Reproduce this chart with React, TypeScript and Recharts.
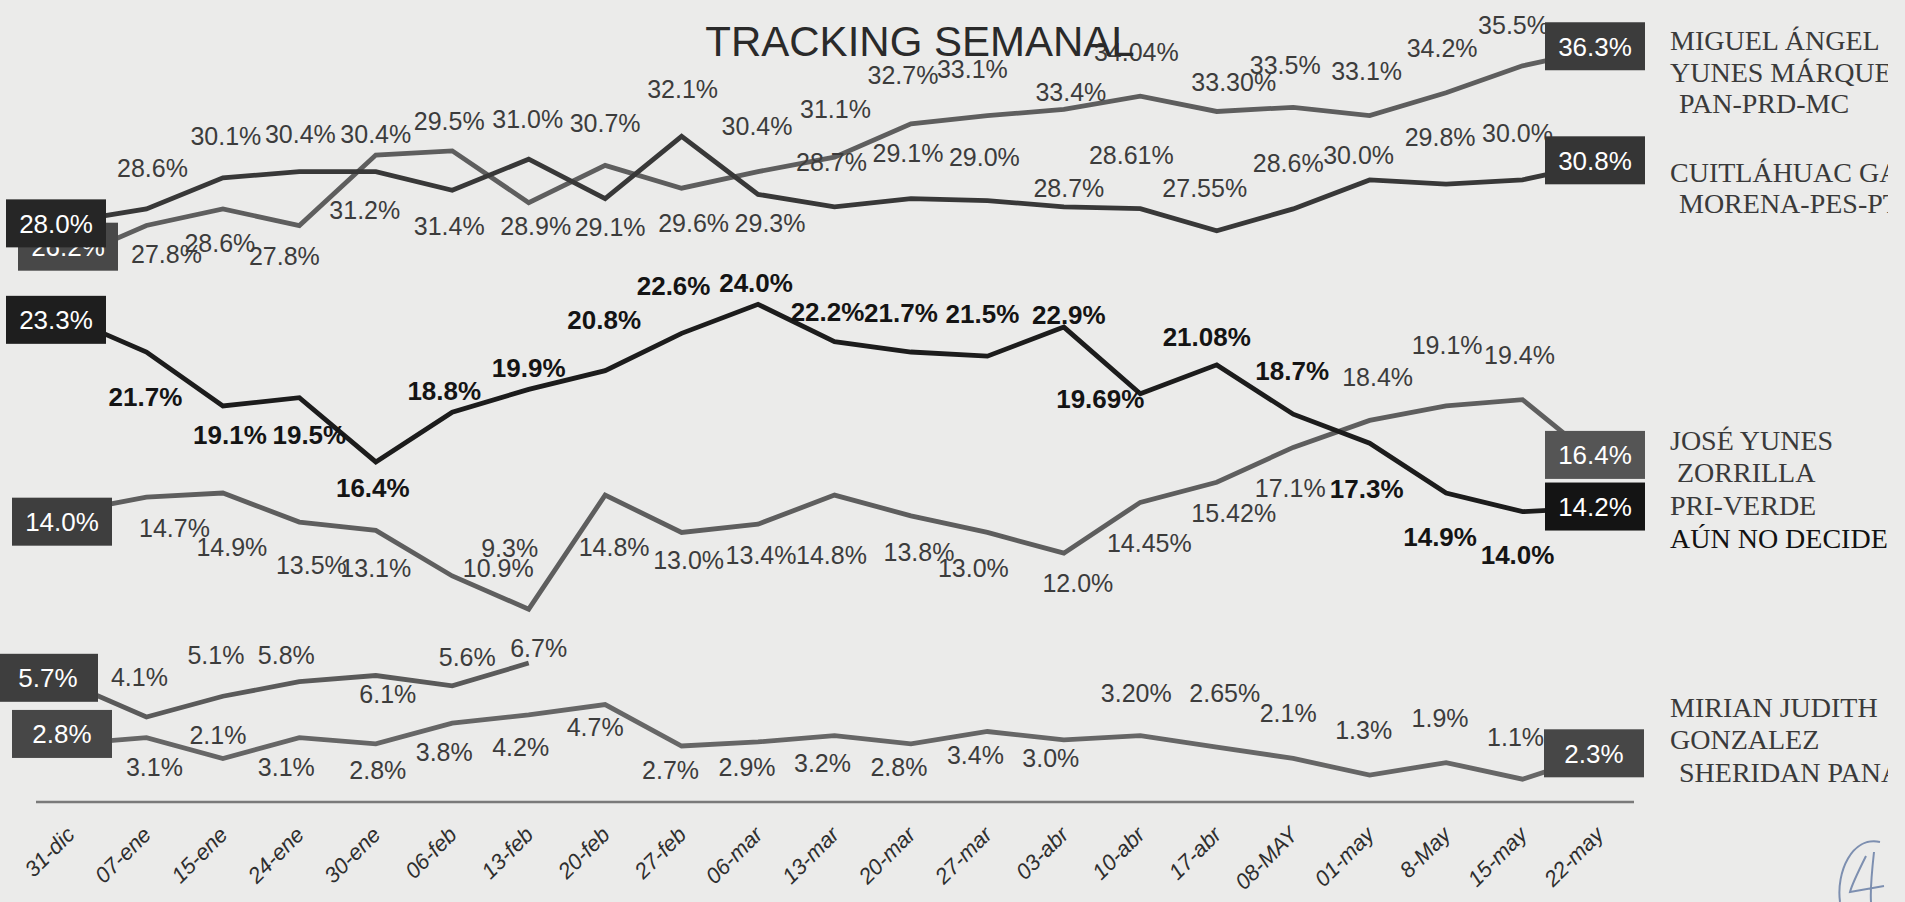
import React from "react";
import { LineChart, Line, XAxis, YAxis } from "recharts";

// semanas (eje X)
const weeks = [
  "31-dic", "07-ene", "15-ene", "24-ene", "30-ene", "06-feb", "13-feb",
  "20-feb", "27-feb", "06-mar", "13-mar", "20-mar", "27-mar", "03-abr",
  "10-abr", "17-abr", "08-MAY", "01-may", "8-May", "15-may", "22-may",
];

// porcentajes tal como aparecen impresos en la gráfica
const yunesMarquez = ["26.2", "27.8", "28.6", "27.8", "31.2", "31.4", "28.9", "30.7", "29.6", "30.4", "31.1", "32.7", "33.1", "33.4", "34.04", "33.30", "33.5", "33.1", "34.2", "35.5", "36.3"];
const cuitlahuac = ["28.0", "28.6", "30.1", "30.4", "30.4", "29.5", "31.0", "29.1", "32.1", "29.3", "28.7", "29.1", "29.0", "28.7", "28.61", "27.55", "28.6", "30.0", "29.8", "30.0", "30.8"];
const yunesZorrilla = ["14.0", "14.7", "14.9", "13.5", "13.1", "10.9", "9.3", "14.8", "13.0", "13.4", "14.8", "13.8", "13.0", "12.0", "14.45", "15.42", "17.1", "18.4", "19.1", "19.4", "16.4"];
const noDecide = ["23.3", "21.7", "19.1", "19.5", "16.4", "18.8", "19.9", "20.8", "22.6", "24.0", "22.2", "21.7", "21.5", "22.9", "19.69", "21.08", "18.7", "17.3", "14.9", "14.0", "14.2"];
const otros = ["5.7", "4.1", "5.1", "5.8", "6.1", "5.6", "6.7"];
const gonzalez = ["2.8", "3.1", "2.1", "3.1", "2.8", "3.8", "4.2", "4.7", "2.7", "2.9", "3.2", "2.8", "3.4", "3.0", "3.20", "2.65", "2.1", "1.3", "1.9", "1.1", "2.3"];

// where each data label sits relative to its point [dx, dy]
type Off = [number, number];
const yunesMarquezLabelPos: Off[] = [[0, 0], [20, 28], [-3, 34], [-15, 30], [-11, 55], [-3, 75], [7, 23], [0, -42], [12, 35], [-1, -46], [1, -48], [-8, -49], [-15, -47], [7, -17], [-4, -44], [17, -29], [-8, -42], [-3, -45], [-4, -45], [-9, -41], [0, 0]];
const cuitlahuacLabelPos: Off[] = [[0, 0], [6, -41], [3, -42], [1, -38], [0, -38], [-3, -69], [-1, -40], [5, 28], [1, -47], [12, 29], [-3, -45], [-3, -46], [-3, -44], [5, -19], [-9, -54], [-12, -43], [-5, -46], [-11, -25], [-6, -47], [-5, -47], [0, 0]];
const yunesZorrillaLabelPos: Off[] = [[0, 0], [28, 31], [9, 54], [12, 43], [0, 38], [46, -8], [-19, -61], [9, 52], [7, 28], [3, 31], [-3, 60], [8, 36], [-14, 36], [14, 30], [9, 41], [17, 31], [-3, 41], [8, -43], [1, -61], [-3, -45], [0, 0]];
const noDecideLabelPos: Off[] = [[0, 0], [-1, 45], [7, 29], [10, 37], [-3, 26], [-8, -22], [0, -22], [-1, -51], [-8, -48], [-2, -22], [-7, -30], [-10, -39], [-5, -43], [5, -12], [-40, 5], [-10, -28], [-1, -44], [-3, 45], [-6, 44], [-5, 43], [0, 0]];
const otrosLabelPos: Off[] = [[0, 0], [-7, -40], [-7, -41], [-13, -27], [12, 18], [15, -29], [10, -15]];
const gonzalezLabelPos: Off[] = [[0, 0], [8, 29], [-5, -23], [-13, 29], [2, 26], [-8, 29], [-8, 32], [-10, 22], [-11, 24], [-11, 25], [-12, 27], [-12, 23], [-12, 24], [-13, 18], [-4, -43], [8, -54], [-5, -45], [-6, -45], [-6, -45], [-7, -42], [0, 0]];

type Series = {
  key: string;
  values: string[];
  labelPos: Off[];
  line: string;
  label: string;
  bold: boolean;
  boxes: { first: [string, number, number]; last?: [string, number, number] };
};

const series: Series[] = [
  { key: "yunesMarquez", values: yunesMarquez, labelPos: yunesMarquezLabelPos, line: "#5e5e5e", label: "#3c3c3c", bold: false, boxes: { first: ["#484848", -2, -12], last: ["#3c3c3c", -4, -3] } },
  { key: "cuitlahuac", values: cuitlahuac, labelPos: cuitlahuacLabelPos, line: "#383838", label: "#3c3c3c", bold: false, boxes: { first: ["#262626", -14, 2], last: ["#353535", -4, -3] } },
  { key: "yunesZorrilla", values: yunesZorrilla, labelPos: yunesZorrillaLabelPos, line: "#5e5e5e", label: "#3c3c3c", bold: false, boxes: { first: ["#3e3e3e", -8, 10], last: ["#555555", -4, -7] } },
  { key: "noDecide", values: noDecide, labelPos: noDecideLabelPos, line: "#1c1c1c", label: "#141414", bold: true, boxes: { first: ["#1e1e1e", -14, 1], last: ["#141414", -4, -1] } },
  { key: "otros", values: otros, labelPos: otrosLabelPos, line: "#5a5a5a", label: "#3c3c3c", bold: false, boxes: { first: ["#3e3e3e", -22, -6] } },
  { key: "gonzalez", values: gonzalez, labelPos: gonzalezLabelPos, line: "#666666", label: "#3c3c3c", bold: false, boxes: { first: ["#474747", -8, -10], last: ["#474747", -5, -1] } },
];

const rows = weeks.map((week, i) => {
  const row: Record<string, string | number | null> = { week };
  series.forEach((s) => {
    row[s.key] = s.values[i] != null ? Number(s.values[i]) : null;
  });
  return row;
});

const FONT = "'Liberation Sans', Arial, sans-serif";
const SERIF = "'Liberation Serif', 'Times New Roman', serif";

const pointLabel = (s: Series) => (p: any) => {
  const { cx, cy, index } = p;
  const raw = s.values[index];
  const k = `${s.key}-${index}`;
  if (raw == null || cx == null || cy == null) return <g key={k} />;
  const text = `${raw}%`;
  const isFirst = index === 0;
  const isLast = index === s.values.length - 1 && !!s.boxes.last;
  if (isFirst || isLast) {
    const [fill, dx, dy] = isFirst ? s.boxes.first : s.boxes.last!;
    const bx = cx + dx;
    const by = cy + dy;
    return (
      <g key={k}>
        <rect x={bx - 50} y={by - 24} width={100} height={48} fill={fill} />
        <text x={bx} y={by} dy="0.36em" textAnchor="middle" fill="#ffffff" fontSize={26} fontFamily={FONT}>
          {text}
        </text>
      </g>
    );
  }
  const [dx, dy] = s.labelPos[index] ?? [0, -40];
  return (
    <text
      key={k}
      x={cx + dx}
      y={cy + dy}
      dy="0.36em"
      textAnchor="middle"
      fill={s.label}
      fontSize={s.bold ? 26 : 25}
      fontWeight={s.bold ? 700 : 400}
      fontFamily={FONT}
    >
      {text}
    </text>
  );
};

const WeekTick = (props: any) => {
  const { x, payload } = props;
  const tx = x + 6;
  const ty = 836;
  return (
    <text
      x={tx}
      y={ty}
      transform={`rotate(-45, ${tx}, ${ty})`}
      textAnchor="end"
      fontSize={22}
      fontStyle="italic"
      fontFamily={FONT}
      fill="#2e2e2e"
    >
      {payload.value}
    </text>
  );
};

const legendLines: { text: string; x: number; y: number; color: string }[] = [
  { text: "MIGUEL ÁNGEL", x: 1670, y: 50, color: "#3a3a3a" },
  { text: "YUNES MÁRQUEZ", x: 1670, y: 82, color: "#3a3a3a" },
  { text: "PAN-PRD-MC", x: 1679, y: 113, color: "#3a3a3a" },
  { text: "CUITLÁHUAC GARCÍA", x: 1670, y: 182, color: "#3a3a3a" },
  { text: "MORENA-PES-PT", x: 1679, y: 213, color: "#3a3a3a" },
  { text: "JOSÉ YUNES", x: 1670, y: 450, color: "#3a3a3a" },
  { text: "ZORRILLA", x: 1677, y: 482, color: "#3a3a3a" },
  { text: "PRI-VERDE", x: 1670, y: 515, color: "#3a3a3a" },
  { text: "AÚN NO DECIDE", x: 1670, y: 548, color: "#111111" },
  { text: "MIRIAN JUDITH", x: 1670, y: 717, color: "#3a3a3a" },
  { text: "GONZALEZ", x: 1670, y: 749, color: "#3a3a3a" },
  { text: "SHERIDAN PANAL", x: 1679, y: 782, color: "#3a3a3a" },
];

export default function App() {
  return (
    <div style={{ position: "absolute", left: 0, top: 0, width: 1905, height: 902, overflow: "hidden", background: "#ebebea" }}>
      <LineChart width={1905} height={902} data={rows} margin={{ top: 14, right: 271, bottom: 10, left: 36 }}>
        <XAxis
          dataKey="week"
          interval={0}
          padding={{ left: 34, right: 35 }}
          height={90}
          tickLine={false}
          axisLine={{ stroke: "#7a7a7a", strokeWidth: 2.5 }}
          tick={<WeekTick />}
        />
        <YAxis hide domain={[0, 38]} />
        {series.map((s) => (
          <Line
            key={s.key}
            dataKey={s.key}
            stroke={s.line}
            strokeWidth={4.8}
            isAnimationActive={false}
            connectNulls={false}
            dot={pointLabel(s)}
            activeDot={false}
          />
        ))}
      </LineChart>
      <svg width={1888} height={902} style={{ position: "absolute", left: 0, top: 0, pointerEvents: "none" }}>
        <text x={920} y={56} textAnchor="middle" fontSize={42} fontFamily={FONT} fill="#2a2a2a">
          TRACKING SEMANAL
        </text>
        {legendLines.map((l) => (
          <text key={l.text} x={l.x} y={l.y} fontSize={28} fontFamily={SERIF} fill={l.color}>
            {l.text}
          </text>
        ))}
      </svg>
      <svg width={1905} height={902} style={{ position: "absolute", left: 0, top: 0, pointerEvents: "none" }}>
        <path d="M1880 842 C1852 836 1836 872 1840 902" stroke="#7d8fb0" strokeWidth={2} fill="none" />
        <path d="M1866 856 C1858 872 1852 884 1850 892 L1884 886 M1874 852 C1872 870 1870 888 1871 902" stroke="#7d8fb0" strokeWidth={2} fill="none" />
      </svg>
    </div>
  );
}
